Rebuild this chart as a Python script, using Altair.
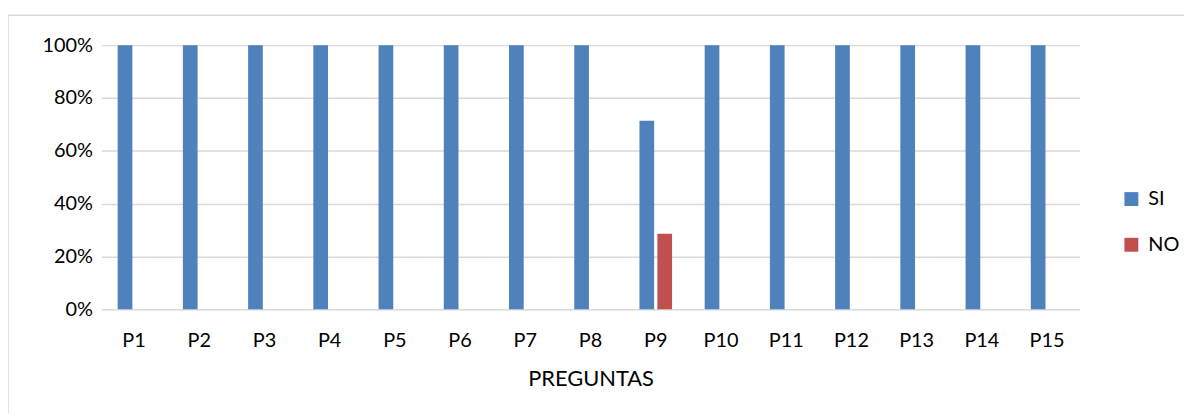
import altair as alt
import pandas as pd

categories = ["P1", "P2", "P3", "P4", "P5", "P6", "P7", "P8", "P9", "P10",
              "P11", "P12", "P13", "P14", "P15"]
si_values = [1.0, 1.0, 1.0, 1.0, 1.0, 1.0, 1.0, 1.0, 0.714, 1.0, 1.0, 1.0, 1.0, 1.0, 1.0]
no_values = [0.0, 0.0, 0.0, 0.0, 0.0, 0.0, 0.0, 0.0, 0.286, 0.0, 0.0, 0.0, 0.0, 0.0, 0.0]
series = ["SI", "NO"]
colors = ["#4f81bd", "#c0504d"]

rows = []
for c, s, n in zip(categories, si_values, no_values):
    rows.append({"pregunta": c, "serie": "SI", "valor": s})
    rows.append({"pregunta": c, "serie": "NO", "valor": n})
df = pd.DataFrame(rows)

FONT = "Lato"

bars = alt.Chart(df).mark_bar().encode(
    x=alt.X("pregunta:N", sort=categories,
            scale=alt.Scale(paddingInner=0.5, paddingOuter=0.25),
            axis=alt.Axis(title="PREGUNTAS", labelAngle=0, ticks=False, domain=False,
                          labelPadding=21, labelFontSize=20, labelColor="#000000",
                          titleFontSize=22, titleFontWeight="normal", titleColor="#000000",
                          titlePadding=19, labelFont=FONT, titleFont=FONT, grid=False)),
    xOffset=alt.XOffset("serie:N", sort=series,
                        scale=alt.Scale(paddingInner=0.18, paddingOuter=0)),
    y=alt.Y("valor:Q", scale=alt.Scale(domain=[0, 1], nice=False),
            axis=alt.Axis(title=None, format=".0%", values=[0, 0.2, 0.4, 0.6, 0.8, 1.0],
                          ticks=False, domain=False, labelPadding=9, labelFontSize=20,
                          labelColor="#000000", labelFont=FONT,
                          gridColor="#d9d9d9", gridWidth=1.5)),
    color=alt.Color("serie:N", sort=series,
                    scale=alt.Scale(domain=series, range=colors),
                    legend=alt.Legend(title=None, orient="none", legendX=1027, legendY=145,
                                      symbolType="square", symbolSize=196,
                                      symbolStrokeWidth=0, labelFontSize=20,
                                      labelFont=FONT, labelColor="#000000",
                                      rowPadding=26, labelOffset=7)),
)

border = alt.Chart(pd.DataFrame({"k": [0]})).mark_rect(
    fill=None, stroke="#d9d9d9", strokeWidth=1.5
).encode(x=alt.value(-94), x2=alt.value(1200), y=alt.value(-30), y2=alt.value(500))

chart = alt.layer(border, bars).properties(
    width=985, height=266,
    autosize=alt.AutoSizeParams(type="none"),
    padding={"left": 94, "top": 36, "right": 105, "bottom": 103},
).configure_view(stroke=None)

chart.save("out.html", embed_options={"renderer": "svg", "actions": False})
